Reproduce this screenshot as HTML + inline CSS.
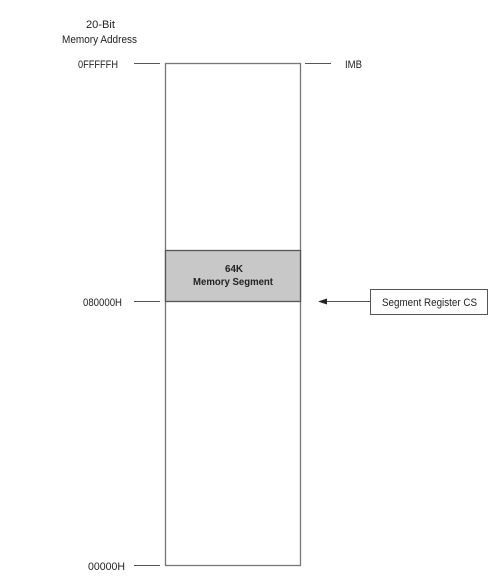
<!DOCTYPE html>
<html><head><style>body{margin:0;background:#fff}</style></head><body>
<svg width="502" height="579" xmlns="http://www.w3.org/2000/svg" style="display:block;font-family:'Liberation Sans',sans-serif;font-size:11px;fill:#222">
<rect x="165.5" y="63.5" width="135" height="502" fill="#fff" stroke="#777" stroke-width="1.3"/>
<rect x="165.5" y="250.5" width="135" height="51" fill="#c8c8c8" stroke="#555" stroke-width="1.3"/>
<text x="225" y="272" font-weight="bold" font-size="10.5" textLength="18" lengthAdjust="spacingAndGlyphs">64K</text>
<text x="193" y="285" font-weight="bold" font-size="10.5" textLength="80" lengthAdjust="spacingAndGlyphs">Memory Segment</text>
<text x="86" y="28" textLength="29" lengthAdjust="spacingAndGlyphs">20-Bit</text>
<text x="62" y="43" textLength="75" lengthAdjust="spacingAndGlyphs">Memory Address</text>
<g stroke="#555" stroke-width="1">
<line x1="134" y1="63.5" x2="160" y2="63.5"/>
<line x1="305" y1="63.5" x2="331" y2="63.5"/>
<line x1="134" y1="301.5" x2="160" y2="301.5"/>
<line x1="134" y1="565.5" x2="160" y2="565.5"/>
<line x1="324" y1="301.5" x2="370" y2="301.5"/>
</g>
<polygon points="318,301.5 327,298.5 327,304.5" fill="#222"/>
<rect x="370.5" y="289.5" width="117" height="25" fill="#fff" stroke="#555"/>
<text x="382" y="306" textLength="95" lengthAdjust="spacingAndGlyphs">Segment Register CS</text>
<text x="78" y="68" textLength="40" lengthAdjust="spacingAndGlyphs">0FFFFFH</text>
<text x="345" y="68" textLength="17" lengthAdjust="spacingAndGlyphs">IMB</text>
<text x="83" y="306" textLength="39" lengthAdjust="spacingAndGlyphs">080000H</text>
<text x="88" y="570" textLength="37" lengthAdjust="spacingAndGlyphs">00000H</text>
</svg>
</body></html>
